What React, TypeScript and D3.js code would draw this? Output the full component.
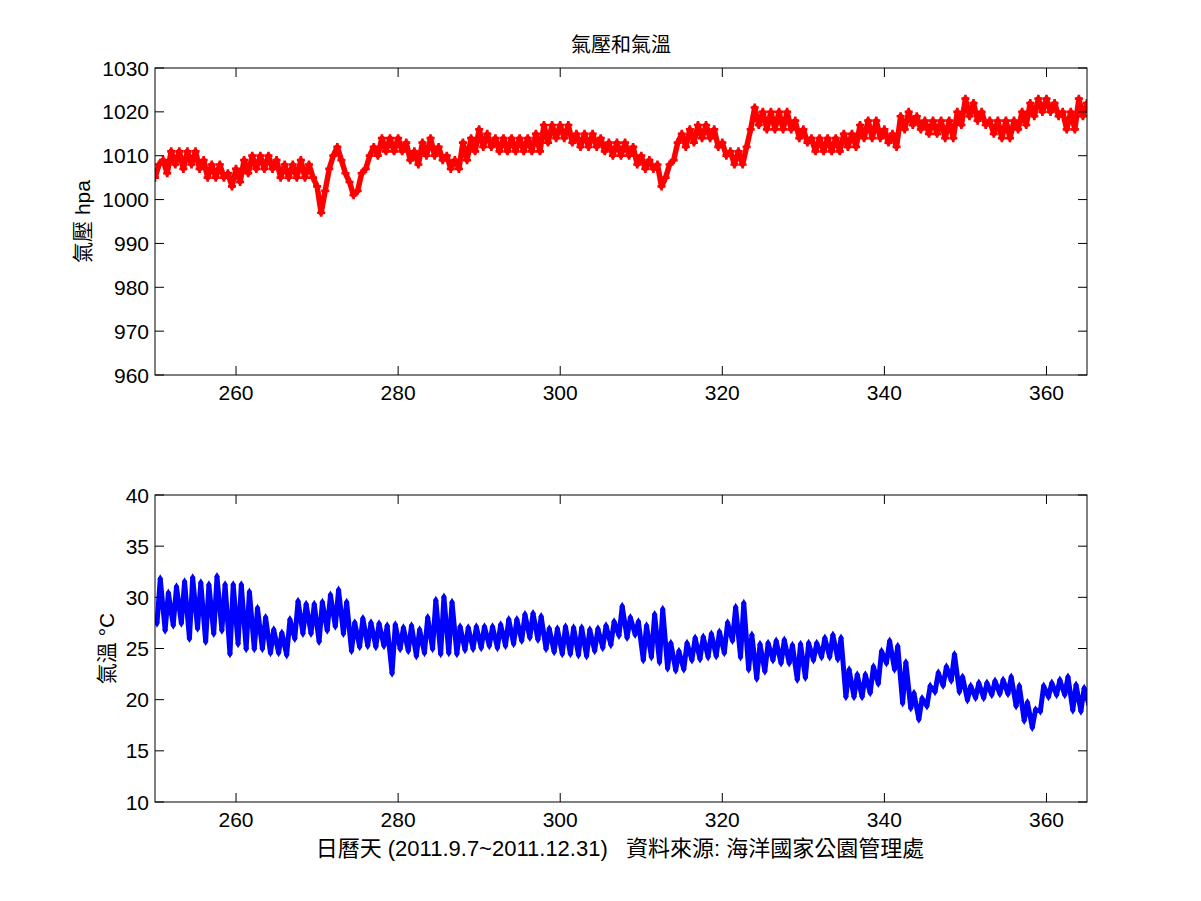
import React from 'react';
import * as d3 from 'd3';

// day-of-year of the first reading; one entry per day in each array below
const firstDay = 250;

// air pressure (hPa), two readings per day: at day+0 and day+0.5
const pressureA = [
  1005, 1009, 1011, 1011, 1011, 1011, 1009, 1008, 1008, 1006,
  1007, 1009, 1010, 1010, 1010, 1009, 1008, 1008, 1009, 1008,
  1003, 1002, 1010, 1009, 1004, 1002, 1007, 1012, 1014, 1014,
  1014, 1013, 1011, 1013, 1014, 1012, 1010, 1009, 1013, 1014,
  1016, 1015, 1014, 1014, 1014, 1014, 1014, 1015, 1017, 1017,
  1017, 1017, 1015, 1015, 1015, 1014, 1013, 1013, 1013, 1012,
  1010, 1009, 1008, 1005, 1009, 1015, 1016, 1017, 1017, 1016,
  1013, 1011, 1011, 1012, 1021, 1020, 1020, 1020, 1020, 1018,
  1016, 1014, 1014, 1014, 1014, 1015, 1015, 1017, 1018, 1018,
  1016, 1015, 1019, 1020, 1019, 1018, 1018, 1018, 1018, 1020,
  1023, 1022, 1020, 1018, 1018, 1018, 1018, 1020, 1022, 1023,
  1023, 1022, 1020, 1020, 1023, 1022,
];
const pressureB = [
  1008, 1006, 1008, 1007, 1008, 1007, 1005, 1005, 1005, 1003,
  1004, 1006, 1007, 1007, 1007, 1005, 1005, 1005, 1005, 1005,
  997, 1007, 1012, 1006, 1001, 1006, 1010, 1010, 1011, 1011,
  1011, 1009, 1008, 1010, 1010, 1009, 1007, 1007, 1009, 1011,
  1012, 1012, 1011, 1011, 1011, 1011, 1011, 1011, 1013, 1014,
  1014, 1013, 1012, 1012, 1012, 1011, 1010, 1010, 1010, 1008,
  1007, 1007, 1003, 1008, 1013, 1012, 1013, 1014, 1014, 1012,
  1010, 1008, 1008, 1016, 1017, 1016, 1016, 1016, 1016, 1014,
  1013, 1011, 1011, 1011, 1011, 1012, 1012, 1014, 1014, 1014,
  1013, 1012, 1016, 1017, 1016, 1015, 1015, 1014, 1014, 1017,
  1019, 1018, 1017, 1015, 1014, 1014, 1016, 1017, 1019, 1020,
  1020, 1019, 1016, 1016, 1019, 1019,
];

// air temperature (°C), daily minimum and maximum
const tempMin = [
  27.5, 26.8, 27.3, 27.5, 26.0, 27.0, 25.7, 26.5, 26.8, 24.5,
  25.5, 25.0, 25.0, 25.0, 24.6, 24.6, 24.4, 26.0, 26.5, 26.5,
  25.7, 26.8, 27.2, 26.5, 24.8, 25.2, 25.3, 25.2, 25.3, 22.6,
  25.0, 24.8, 24.3, 24.6, 25.0, 24.5, 24.6, 24.5, 24.9, 25.0,
  25.1, 25.3, 25.1, 25.3, 25.5, 25.8, 26.1, 25.9, 25.0, 24.7,
  24.5, 24.5, 24.4, 24.3, 24.8, 25.1, 25.4, 26.3, 26.1, 26.4,
  23.9, 24.2, 23.7, 23.1, 22.9, 23.0, 23.9, 24.0, 24.2, 24.3,
  24.6, 25.8, 24.2, 23.0, 22.1, 22.8, 23.9, 23.6, 23.6, 22.0,
  22.2, 23.9, 24.2, 24.2, 24.0, 20.3, 20.3, 20.3, 20.7, 21.6,
  23.6, 23.0, 19.7, 19.2, 18.1, 19.4, 20.8, 21.4, 21.9, 20.8,
  20.0, 20.2, 20.2, 20.5, 20.6, 20.6, 19.4, 18.0, 17.3, 18.9,
  20.3, 20.5, 20.5, 19.0, 18.9, 19.5,
];
const tempMax = [
  31.8, 30.4, 31.0, 31.5, 31.9, 31.4, 31.2, 32.0, 31.2, 31.2,
  31.2, 30.5, 28.9, 28.0, 26.8, 26.5, 27.8, 29.6, 29.3, 29.3,
  29.5, 30.2, 30.7, 29.5, 27.5, 27.9, 27.5, 27.4, 27.2, 27.3,
  27.0, 27.2, 26.8, 28.0, 29.7, 30.0, 29.5, 27.1, 27.0, 27.1,
  27.1, 27.1, 27.3, 27.8, 27.8, 28.3, 28.4, 28.1, 26.9, 26.9,
  27.1, 27.0, 27.0, 26.8, 26.9, 27.2, 27.6, 29.1, 28.0, 27.6,
  27.2, 28.3, 28.8, 25.5, 24.7, 25.5, 26.0, 26.1, 26.4, 26.6,
  27.5, 29.0, 29.4, 26.3, 25.4, 25.5, 25.7, 25.8, 25.3, 25.4,
  25.5, 25.5, 26.0, 26.3, 26.0, 22.9, 22.4, 22.4, 23.2, 24.7,
  25.7, 25.2, 23.6, 20.6, 20.1, 21.3, 22.6, 23.2, 24.4, 22.2,
  21.3, 21.6, 21.6, 21.8, 21.9, 22.2, 21.3, 19.7, 19.0, 21.3,
  21.6, 21.9, 22.2, 21.4, 21.1, 20.8,
];

const dayDomain = [250, 365];
const dayTicks = [260, 280, 300, 320, 340, 360];
const pressureTicks = [960, 970, 980, 990, 1000, 1010, 1020, 1030];
const tempTicks = [10, 15, 20, 25, 30, 35, 40];

const FONT = '"Liberation Sans", Arial, "Noto Sans CJK TC", sans-serif';
const CJK = '"Liberation Sans", "Noto Sans CJK TC", sans-serif';

const plotLeft = 155;
const plotRight = 1087;

interface PanelProps {
  id: string;
  top: number;
  bottom: number;
  yDomain: number[];
  yTicks: number[];
  points: [number, number][];
  color: string;
  lineWidth: number;
  symbol: d3.SymbolType;
  symbolSize: number;
  yLabel: string;
  yLabelX: number;
}

const Panel: React.FC<PanelProps> = ({
  id, top, bottom, yDomain, yTicks, points, color, lineWidth, symbol, symbolSize, yLabel, yLabelX,
}) => {
  const x = d3.scaleLinear().domain(dayDomain).range([plotLeft, plotRight]);
  const y = d3.scaleLinear().domain(yDomain).range([bottom, top]);
  const line = d3.line<[number, number]>().x(d => x(d[0])).y(d => y(d[1]));
  const marker = d3.symbol(symbol, symbolSize)() || '';
  const tick = 9;

  return (
    <g>
      <defs>
        <clipPath id={id}>
          <rect x={plotLeft} y={top} width={plotRight - plotLeft} height={bottom - top} />
        </clipPath>
      </defs>
      <rect x={plotLeft} y={top} width={plotRight - plotLeft} height={bottom - top} fill="#fff" />
      <g clipPath={`url(#${id})`}>
        <path d={line(points) || ''} fill="none" stroke={color} strokeWidth={lineWidth} strokeLinejoin="round" />
        {points.map((p, i) => (
          <path key={i} d={marker} transform={`translate(${x(p[0])},${y(p[1])})`} fill={color} />
        ))}
      </g>
      {/* box + inward ticks like matlab */}
      <rect x={plotLeft} y={top} width={plotRight - plotLeft} height={bottom - top} fill="none" stroke="#000" strokeWidth={1} />
      {dayTicks.map(t => (
        <g key={t}>
          <line x1={x(t)} x2={x(t)} y1={bottom} y2={bottom - tick} stroke="#000" />
          <line x1={x(t)} x2={x(t)} y1={top} y2={top + tick} stroke="#000" />
          <text x={x(t)} y={bottom + 25} textAnchor="middle" fontSize={21} fontFamily={FONT}>{t}</text>
        </g>
      ))}
      {yTicks.map(t => (
        <g key={t}>
          <line x1={plotLeft} x2={plotLeft + tick} y1={y(t)} y2={y(t)} stroke="#000" />
          <line x1={plotRight} x2={plotRight - tick} y1={y(t)} y2={y(t)} stroke="#000" />
          <text x={plotLeft - 6} y={y(t)} dy="0.36em" textAnchor="end" fontSize={21} fontFamily={FONT}>{t}</text>
        </g>
      ))}
      <text
        transform={`translate(${yLabelX},${(top + bottom) / 2}) rotate(-90)`}
        textAnchor="middle"
        dy="0.36em"
        fontSize={21}
        fontFamily={CJK}
      >
        {yLabel}
      </text>
    </g>
  );
};

const App: React.FC = () => {
  const pressurePoints: [number, number][] = pressureA.flatMap((v, i) => [
    [firstDay + i, v] as [number, number],
    [firstDay + i + 0.5, pressureB[i]] as [number, number],
  ]);
  const tempPoints: [number, number][] = tempMin.flatMap((v, i) => [
    [firstDay + i + 0.25, v] as [number, number],
    [firstDay + i + 0.65, tempMax[i]] as [number, number],
  ]);

  return (
    <svg width={1201} height={901} style={{ position: 'absolute', left: 0, top: 0, background: '#fff' }}>
      <rect width={1201} height={901} fill="#fff" />
      <text x={621} y={52} textAnchor="middle" fontSize={20} fontFamily={CJK}>氣壓和氣溫</text>
      <Panel
        id="clip-p"
        top={68}
        bottom={375}
        yDomain={[960, 1030]}
        yTicks={pressureTicks}
        points={pressurePoints}
        color="#ff0000"
        lineWidth={5.5}
        symbol={d3.symbolCross}
        symbolSize={36}
        yLabel="氣壓 hpa"
        yLabelX={82}
      />
      <Panel
        id="clip-t"
        top={495}
        bottom={802}
        yDomain={[10, 40]}
        yTicks={tempTicks}
        points={tempPoints}
        color="#0000ff"
        lineWidth={5}
        symbol={d3.symbolDiamond}
        symbolSize={26}
        yLabel="氣溫 °C"
        yLabelX={106}
      />
      <text x={620} y={856} textAnchor="middle" fontSize={22} fontFamily={CJK} style={{ whiteSpace: 'pre' }}>
        日曆天 (2011.9.7~2011.12.31)   資料來源: 海洋國家公園管理處
      </text>
    </svg>
  );
};

export default App;
